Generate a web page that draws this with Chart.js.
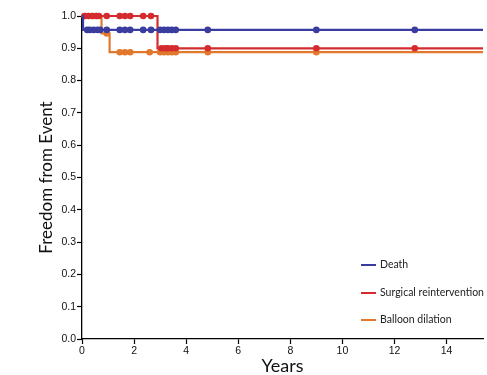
<!DOCTYPE html>
<html>
<head>
<meta charset="utf-8">
<script src="https://cdn.jsdelivr.net/npm/chart.js@4.4.1/dist/chart.umd.min.js"></script>
<style>
  html, body { margin: 0; padding: 0; background: #fff; overflow: hidden; }
  #wrap { width: 487px; height: 375px; }
</style>
</head>
<body>
<div id="wrap"><canvas id="km"></canvas></div>
<script>
// Kaplan-Meier steps: [years, survival]
const deathSteps = [[0, 1.0], [0.04, 0.957], [15.4, 0.957]];
const surgerySteps = [[0, 1.0], [2.9, 0.90], [15.4, 0.90]];
const balloonSteps = [[0, 1.0], [0.75, 0.946], [1.06, 0.888], [15.4, 0.888]];

// Censored observations (years)
const deathCensor = [0.2, 0.3, 0.45, 0.6, 0.7, 0.95, 1.45, 1.65, 1.85, 2.35, 2.65,
  3.0, 3.15, 3.3, 3.45, 3.6, 4.83, 9.0, 12.78];
const surgeryCensorHigh = [0.1, 0.25, 0.4, 0.55, 0.65, 0.95, 1.45, 1.65, 1.85, 2.35, 2.65];
const surgeryCensorLow = [3.05, 3.2, 3.3, 3.45, 3.6, 4.83, 9.0, 12.78];
const balloonCensorHigh = [0.1, 0.25, 0.4, 0.55];
const balloonCensorMid = [0.95];
const balloonCensorLow = [1.45, 1.65, 1.85, 2.6, 3.0, 3.15, 3.3, 3.45, 3.6, 4.83, 9.0];

const yTicks = [0, 0.1, 0.2, 0.3, 0.4, 0.5, 0.6, 0.7, 0.8, 0.9, 1.0];
const xTicks = [0, 2, 4, 6, 8, 10, 12, 14];

const BLUE = "#3a3d9f";
const RED = "#d42c2e";
const ORANGE = "#e2782c";

const toPts = (arr) => arr.map(([x, y]) => ({ x: x, y: y }));
const censorPts = (xs, y) => xs.map((x) => ({ x: x, y: y }));

function stepSet(label, steps, color, order) {
  return {
    label: label,
    data: toPts(steps),
    borderColor: color,
    backgroundColor: color,
    borderWidth: 2.2,
    stepped: true,
    pointRadius: 0,
    clip: false,
    order: order,
  };
}

function censorSet(points, color, order) {
  return {
    label: "",
    isCensor: true,
    data: points,
    showLine: false,
    borderColor: color,
    backgroundColor: color,
    pointRadius: 3.3,
    pointBorderWidth: 0,
    clip: false,
    order: order,
  };
}

// legend drawn at the lower right, like the original figure
const sideLegend = {
  id: "sideLegend",
  afterDraw(chart) {
    const ctx = chart.ctx;
    const items = chart.data.datasets.filter((d) => !d.isCensor);
    const ys = [265, 293, 320];
    ctx.save();
    ctx.font = "10.5px Lato";
    ctx.textBaseline = "middle";
    items.forEach((d, i) => {
      ctx.strokeStyle = d.borderColor;
      ctx.lineWidth = 2;
      ctx.beginPath();
      ctx.moveTo(361, ys[i]);
      ctx.lineTo(376, ys[i]);
      ctx.stroke();
      ctx.fillStyle = "#222";
      ctx.fillText(d.label, 380, ys[i]);
    });
    ctx.restore();
  },
};

new Chart(document.getElementById("km"), {
  type: "line",
  plugins: [sideLegend],
  data: {
    datasets: [
      stepSet("Death", deathSteps, BLUE, 1),
      stepSet("Surgical reintervention", surgerySteps, RED, 3),
      stepSet("Balloon dilation", balloonSteps, ORANGE, 5),
      censorSet(censorPts(deathCensor, 0.957), BLUE, 0),
      censorSet(censorPts(surgeryCensorHigh, 1.0), RED, 2),
      censorSet(censorPts(surgeryCensorLow, 0.90), RED, 2),
      censorSet(censorPts(balloonCensorHigh, 1.0), ORANGE, 4),
      censorSet(censorPts(balloonCensorMid, 0.946), ORANGE, 4),
      censorSet(censorPts(balloonCensorLow, 0.888), ORANGE, 4),
    ],
  },
  options: {
    responsive: true,
    maintainAspectRatio: false,
    animation: false,
    layout: { padding: { top: 16, right: 0, left: 0, bottom: 0 } },
    plugins: {
      legend: { display: false },
      tooltip: { enabled: false },
    },
    scales: {
      x: {
        type: "linear",
        min: 0,
        max: 15.4,
        afterBuildTicks: (scale) => {
          scale.ticks = xTicks.map((v) => ({ value: v }));
        },
        afterFit: (scale) => { scale.height = 36; },
        ticks: {
          color: "#111",
          font: { family: "Liberation Sans", size: 10.5 },
          padding: 1,
          maxRotation: 0,
        },
        grid: { drawOnChartArea: false, tickLength: 5, color: "#000", tickWidth: 1.2 },
        border: { color: "#000", width: 1.3 },
        title: {
          display: true,
          text: "Years",
          color: "#111",
          font: { family: "Lato", size: 18, lineHeight: 1 },
          padding: { top: 0, bottom: 0 },
        },
      },
      y: {
        min: 0,
        max: 1,
        afterBuildTicks: (scale) => {
          scale.ticks = yTicks.map((v) => ({ value: v }));
        },
        afterFit: (scale) => { scale.width = 82; },
        ticks: {
          color: "#111",
          font: { family: "Liberation Sans", size: 10.5 },
          padding: 1,
          callback: (v) => Number(v).toFixed(1),
        },
        grid: { drawOnChartArea: false, tickLength: 5, color: "#000", tickWidth: 1.2 },
        border: { color: "#000", width: 1.3 },
        title: {
          display: true,
          text: "Freedom from Event",
          color: "#111",
          font: { family: "Lato", size: 17, lineHeight: 1 },
          padding: { top: 38, bottom: 0 },
        },
      },
    },
  },
});
</script>
</body>
</html>
